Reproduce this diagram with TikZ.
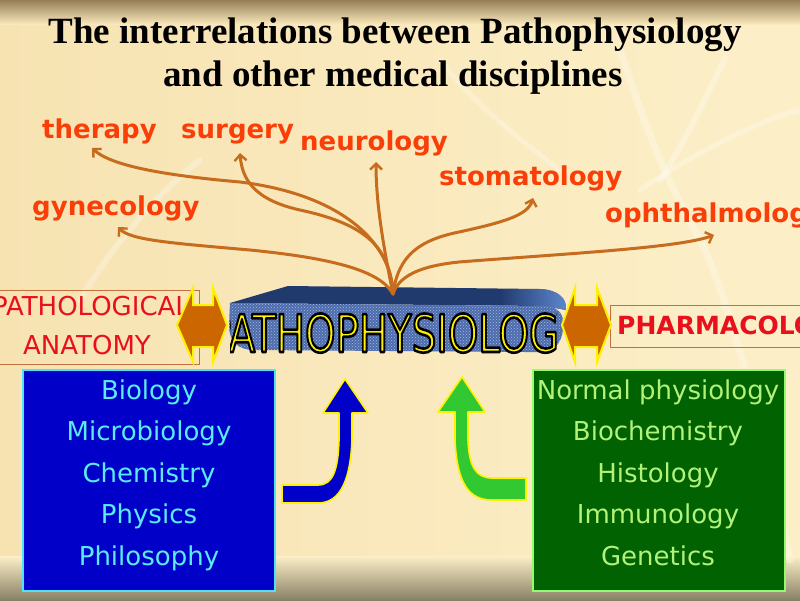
\documentclass[tikz,border=0pt]{standalone}
\usepackage{fontspec}
\setmainfont{DejaVu Sans}
\newfontfamily\serifttl{Liberation Serif}
\usetikzlibrary{arrows.meta,patterns,shadings}
\definecolor{bgA}{RGB}{247,227,178}
\definecolor{bgB}{RGB}{252,239,200}
\definecolor{topband}{RGB}{150,126,86}
\definecolor{botband}{RGB}{135,128,100}
\definecolor{labred}{RGB}{250,62,8}
\definecolor{curvecol}{RGB}{198,108,28}
\definecolor{dblfill}{RGB}{204,102,0}
\definecolor{boxbrown}{RGB}{196,112,60}
\definecolor{redtxt}{RGB}{232,16,28}
\definecolor{bluefill}{RGB}{0,0,200}
\definecolor{cyanborder}{RGB}{80,225,255}
\definecolor{cyantext}{RGB}{90,235,245}
\definecolor{greenfill}{RGB}{0,98,0}
\definecolor{greenborder}{RGB}{150,250,110}
\definecolor{greentext}{RGB}{178,242,122}
\definecolor{slabtop}{RGB}{32,58,110}
\definecolor{slabtopR}{RGB}{95,135,205}
\definecolor{slabfront}{RGB}{78,108,172}
\definecolor{slabdots}{RGB}{160,185,230}
\definecolor{arrowblue}{RGB}{0,0,200}
\definecolor{arrowgreen}{RGB}{50,200,50}
\newcommand\outl[1]{\special{pdf:code q 0 0 0 RG 2 Tr 2.6 w 1 j}#1\special{pdf:code Q}}
\newlength\wP \newlength\wY \newlength\wAll
\begin{document}
\settowidth\wP{\fontsize{52}{52}\selectfont P}%
\settowidth\wY{\fontsize{52}{52}\selectfont Y}%
\settowidth\wAll{\fontsize{52}{52}\selectfont PATHOPHYSIOLOGY}%
\begin{tikzpicture}[x=1pt,y=-1pt,
  lbl/.style={text=labred, font=\bfseries\fontsize{26}{26}\selectfont, anchor=base west, inner sep=0pt},
  curve/.style={draw=curvecol, line width=3pt, line cap=round, -{Straight Barb[length=6pt,width=12pt,line width=2.4pt]}},
  dblarrow/.style={fill=dblfill, draw=yellow, line width=2pt, line join=miter},
  btxt/.style={text=cyantext, font=\fontsize{26}{26}\selectfont, anchor=base, inner sep=0pt},
  gtxt/.style={text=greentext, font=\fontsize{26}{26}\selectfont, anchor=base, inner sep=0pt},
  ttl/.style={text=black, font=\serifttl\bfseries\fontsize{37}{37}\selectfont, anchor=base, inner sep=0pt},
  bigarrow/.style={draw=yellow, line width=1.6pt, line join=round},
  streak/.style={draw=white, opacity=0.28, line cap=round}
]
\clip (0,0) rectangle (800,600);
% background
\shade[left color=bgA, right color=bgB] (0,0) rectangle (800,600);
\shade[top color=topband, bottom color=bgA!60!bgB] (0,0) rectangle (800,24);
\shade[top color=bgB, bottom color=botband] (0,556) rectangle (800,600);
\draw[streak, line width=7pt] (620,50) .. controls (640,110) and (660,170) .. (700,240) .. controls (730,300) and (760,420) .. (790,560);
\draw[streak, line width=6pt] (725,58) .. controls (700,110) and (680,150) .. (660,180);
\draw[streak, line width=5pt] (640,190) .. controls (700,150) and (760,120) .. (800,110);
\draw[streak, line width=6pt] (80,300) .. controls (110,250) and (150,200) .. (200,160);
\draw[streak, line width=9pt] (600,560) .. controls (640,530) and (690,500) .. (740,480);
\draw[streak, line width=5pt] (440,60) .. controls (470,100) and (520,140) .. (560,170);

% title
\node[ttl] (t1) at (395,43) {The interrelations between Pathophysiology};
\node[ttl] (t2) at (393,86) {and other medical disciplines};

% labels
\node[lbl] (therapy) at (42,138) {therapy};
\node[lbl] (surgery) at (181,138) {surgery};
\node[lbl] (neuro) at (300,150) {neurology};
\node[lbl] (stoma) at (439,185) {stomatology};
\node[lbl] (gyn) at (32,215) {gynecology};
\node[lbl] (oph) at (605,222) {ophthalmology};

\coordinate (src) at (393,294);
\coordinate (tT) at (92,148);
\coordinate (tS) at (240,153);
\coordinate (tN) at (376,162);
\coordinate (tSt) at (533,198);
\coordinate (tG) at (118,227);
\coordinate (tO) at (714,235);

% slab
\fill[slabtop] (230,303) -- (288,286) -- (540,289) .. controls (558,290) and (567,298) .. (566,310) -- (545,306) -- cycle;
\shade[left color=slabtop, right color=slabtopR] (500,289) -- (540,289) .. controls (558,290) and (567,298) .. (566,310) -- (545,306) -- (500,305) -- cycle;
\fill[slabfront] (230,303) -- (545,306) .. controls (562,307) and (566,318) .. (562,335) .. controls (558,350) and (548,353) .. (525,352) -- (255,350) .. controls (238,350) and (229,342) .. (229,325) -- cycle;
\fill[pattern=crosshatch dots, pattern color=slabdots] (230,303) -- (545,306) .. controls (562,307) and (566,318) .. (562,335) .. controls (558,350) and (548,353) .. (525,352) -- (255,350) .. controls (238,350) and (229,342) .. (229,325) -- cycle;
\pgfmathsetmacro\sc{326/(\wAll-\wP-\wY)}
\pgfmathsetmacro\xo{231-\sc*\wP}
\begin{scope}
\clip (230,280) rectangle (556.5,370);
\node[text=yellow, font=\fontsize{52}{52}\selectfont, xscale=\sc, inner sep=0pt, anchor=base west] (patho) at (\xo,352) {\outl{PATHOPHYSIOLOGY}};
\end{scope}

% curves
\draw[curve] (src) .. controls (392,245) and (345,195) .. (240,182) .. controls (160,175) and (110,165) .. (tT);
\draw[curve] (src) .. controls (390,250) and (370,225) .. (300,210) .. controls (255,200) and (242,180) .. (tS);
\draw[curve] (src) .. controls (382,240) and (376,200) .. (tN);
\draw[curve] (src) .. controls (398,255) and (420,240) .. (459,232) .. controls (505,222) and (528,215) .. (tSt);
\draw[curve] (src) .. controls (380,270) and (330,258) .. (250,250) .. controls (170,243) and (130,240) .. (tG);
\draw[curve] (src) .. controls (400,272) and (430,265) .. (459,262) .. controls (560,254) and (680,248) .. (tO);

% side boxes
\node[draw=boxbrown, line width=1pt, minimum width=206pt, minimum height=74pt, inner sep=0pt] (pabox) at (96,327) {};
\node[text=redtxt, font=\fontsize{26}{26}\selectfont, anchor=base, inner sep=0pt] (pa1) at (91,315) {PATHOLOGICAL};
\node[text=redtxt, font=\fontsize{26}{26}\selectfont, anchor=base, inner sep=0pt] (pa2) at (87,354) {ANATOMY};
\node[draw=boxbrown, line width=1pt, minimum width=200pt, minimum height=42pt, inner sep=0pt] (phbox) at (710,326) {};
\node[text=redtxt, font=\bfseries\fontsize{25}{25}\selectfont, anchor=base west, inner sep=0pt] (ph) at (617,334) {PHARMACOLOGY};

% double arrows
\draw[dblarrow] (177,325) -- (193,288) -- (193,305) -- (213,305) -- (213,288) -- (227,325) -- (213,362) -- (213,347) -- (193,347) -- (193,362) -- cycle;
\draw[dblarrow] (562,325) -- (575,288) -- (575,305) -- (597,305) -- (597,288) -- (611,325) -- (597,362) -- (597,347) -- (575,347) -- (575,362) -- cycle;

% bottom boxes
\node[draw=cyanborder, fill=bluefill, line width=2pt, minimum width=252pt, minimum height=221pt, inner sep=0pt] (bluebox) at (149,480.5) {};
\node[btxt] (b1) at (149,399) {Biology};
\node[btxt] (b2) at (149,440.5) {Microbiology};
\node[btxt] (b3) at (149,482) {Chemistry};
\node[btxt] (b4) at (149,523.5) {Physics};
\node[btxt] (b5) at (149,565) {Philosophy};
\node[draw=greenborder, fill=greenfill, line width=2pt, minimum width=252pt, minimum height=221pt, inner sep=0pt] (greenbox) at (659,480.5) {};
\node[gtxt] (g1) at (658,399) {Normal physiology};
\node[gtxt] (g2) at (658,440.5) {Biochemistry};
\node[gtxt] (g3) at (658,482) {Histology};
\node[gtxt] (g4) at (658,523.5) {Immunology};
\node[gtxt] (g5) at (658,565) {Genetics};

% big curved arrows
\draw[bigarrow, fill=arrowblue] (282,485) -- (318,485) .. controls (333,485) and (338,470) .. (339,440) -- (339,413) -- (323,413) -- (345,379) -- (368,413) -- (352,413) -- (352,440) .. controls (350,490) and (335,503) .. (318,503) -- (282,503) -- cycle;
\draw[bigarrow, fill=arrowgreen] (526,478) -- (492,478) .. controls (475,478) and (469,465) .. (468,440) -- (468,412) -- (485,412) -- (462,377) -- (438,412) -- (455,412) -- (455,440) .. controls (457,485) and (470,500) .. (492,500) -- (526,500) -- cycle;
\end{tikzpicture}
\end{document}
